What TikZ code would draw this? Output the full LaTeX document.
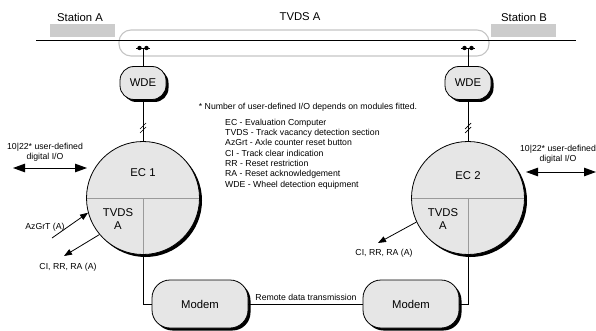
\documentclass[tikz,border=0pt]{standalone}
\usepackage{fontspec}
\setmainfont{Liberation Sans}
\usetikzlibrary{arrows.meta,shadows,calc}
\definecolor{boxfill}{HTML}{E6E6E6}
\definecolor{stationgray}{HTML}{CCCCCC}
\definecolor{sectiongray}{HTML}{C4C4C4}
\definecolor{divgray}{HTML}{9A9A9A}
\begin{document}
\begin{tikzpicture}[x=1pt,y=-1pt,
  big/.style={font=\fontsize{11.3}{13}\selectfont},
  small/.style={font=\fontsize{8.7}{10.3}\selectfont},
  shade/.style={drop shadow={shadow xshift=2.5pt,shadow yshift=-2.5pt,fill=black,opacity=1}},
  wdebox/.style={draw,line width=0.8pt,fill=boxfill,rounded corners=14pt,minimum width=46pt,minimum height=33pt,inner sep=0pt,big,shade},
  modembox/.style={draw,line width=0.8pt,fill=boxfill,rounded corners=18pt,minimum width=96pt,minimum height=48pt,inner sep=0pt,big,shade},
  ecbox/.style={draw,circle,line width=0.8pt,fill=boxfill,minimum size=113pt,inner sep=0pt,shade},
  wire/.style={line width=0.8pt},
  bigarrow/.style={line width=1pt,{Triangle[length=12pt,width=8.5pt]}-{Triangle[length=12pt,width=8.5pt]}},
  sigarrow/.style={line width=0.8pt,-{Triangle[length=8pt,width=6pt]}},
  label/.style={inner sep=0pt}]
\useasboundingbox (0,0) rectangle (596,331);

% stations and track
\fill[stationgray] (50,24) rectangle (115,37);
\fill[stationgray] (491,24) rectangle (556,37);
\node[label,big] (stA) at (80,17) {Station A};
\node[label,big] (stB) at (524,17) {Station B};
\node[label,big] (tvds) at (300,17) {TVDS A};
\draw[sectiongray,line width=1.1pt,rounded corners=12pt] (119,30) rectangle (489,56);
\draw[line width=0.9pt] (36,40) -- (576,40);

% wheel sensors
\coordinate (sA) at (143,48);
\coordinate (sB) at (468,48);
\foreach \s in {sA,sB}{
  \draw[wire] ([xshift=-7pt]\s) -- ([xshift=7pt]\s);
  \fill ([xshift=-3.5pt]\s) circle (2.2pt);
  \fill ([xshift=3.5pt]\s) circle (2.2pt);
}

% wheel detection equipment
\node[wdebox] (wdeA) at (143,83) {WDE};
\node[wdebox] (wdeB) at (468,83) {WDE};
\draw[wire] (sA) -- (wdeA.north);
\draw[wire] (sB) -- (wdeB.north);

% evaluation computers
\node[ecbox] (ecA) at (143,198) {};
\node[ecbox] (ecB) at (468,198) {};
\foreach \e in {ecA,ecB}{
  \draw[divgray,line width=0.8pt,shorten <=0.5pt,shorten >=0.5pt] (\e.west) -- (\e.east);
  \draw[divgray,line width=0.8pt,shorten >=0.5pt] (\e.center) -- (\e.south);
}
\node[label,big] (ecAt) at (143,173) {EC 1};
\node[label,big] (ecBt) at (468,176) {EC 2};
\node[label,big,align=center] (tvA) at (118,219) {TVDS\\A};
\node[label,big,align=center] (tvB) at (443,219) {TVDS\\A};

% WDE to EC links with bus marks
\draw[wire] (wdeA.south) -- (ecA.north);
\draw[wire] (wdeB.south) -- (ecB.north);
\foreach \x in {143,468}{
  \draw[line width=0.7pt] (\x-3,129) -- (\x+3,123);
  \draw[line width=0.7pt] (\x-3,133) -- (\x+3,127);
}

% digital I/O
\coordinate (ioA1) at (13,168);
\coordinate (ioA2) at (87,168);
\draw[bigarrow] (ioA1) -- (ioA2);
\node[label,small,align=center] (ioAt) at (45,152) {10|22* user-defined\\digital I/O};
\coordinate (ioB1) at (526,172);
\coordinate (ioB2) at (596,172);
\draw[bigarrow] (ioB1) -- (ioB2);
\node[label,small,align=center] (ioBt) at (558,154) {10|22* user-defined\\digital I/O};

% reset and indication signals
\coordinate (azA) at (52,238);
\draw[sigarrow] (azA) -- (ecA.195);
\node[label,small] (azAt) at (45,227) {AzGrT (A)};
\coordinate (ciA) at (64,256);
\draw[sigarrow] (ecA.220) -- (ciA);
\node[label,small] (ciAt) at (68,267) {CI, RR, RA (A)};
\coordinate (ciB) at (378,243);
\draw[sigarrow] (ecB.205) -- (ciB);
\node[label,small] (ciBt) at (384,253) {CI, RR, RA (A)};

% modems
\node[modembox] (modemA) at (200,304) {Modem};
\node[modembox] (modemB) at (411,304) {Modem};
\draw[wire] (ecA.south) |- (modemA.west);
\draw[wire] (modemB.east) -| (ecB.south);
\draw[wire] (modemA.east) -- (modemB.west);
\node[label,small] (remote) at (306,297) {Remote data transmission};

% legend
\node[label,small] (note) at (308,107) {* Number of user-defined I/O depends on modules fitted.};
\node[label,small,align=left,anchor=west] (legend) at (225,154) {EC - Evaluation Computer\\TVDS - Track vacancy detection section\\AzGrt - Axle counter reset button\\CI - Track clear indication\\RR - Reset restriction\\RA - Reset acknowledgement\\WDE - Wheel detection equipment};
\end{tikzpicture}
\end{document}
